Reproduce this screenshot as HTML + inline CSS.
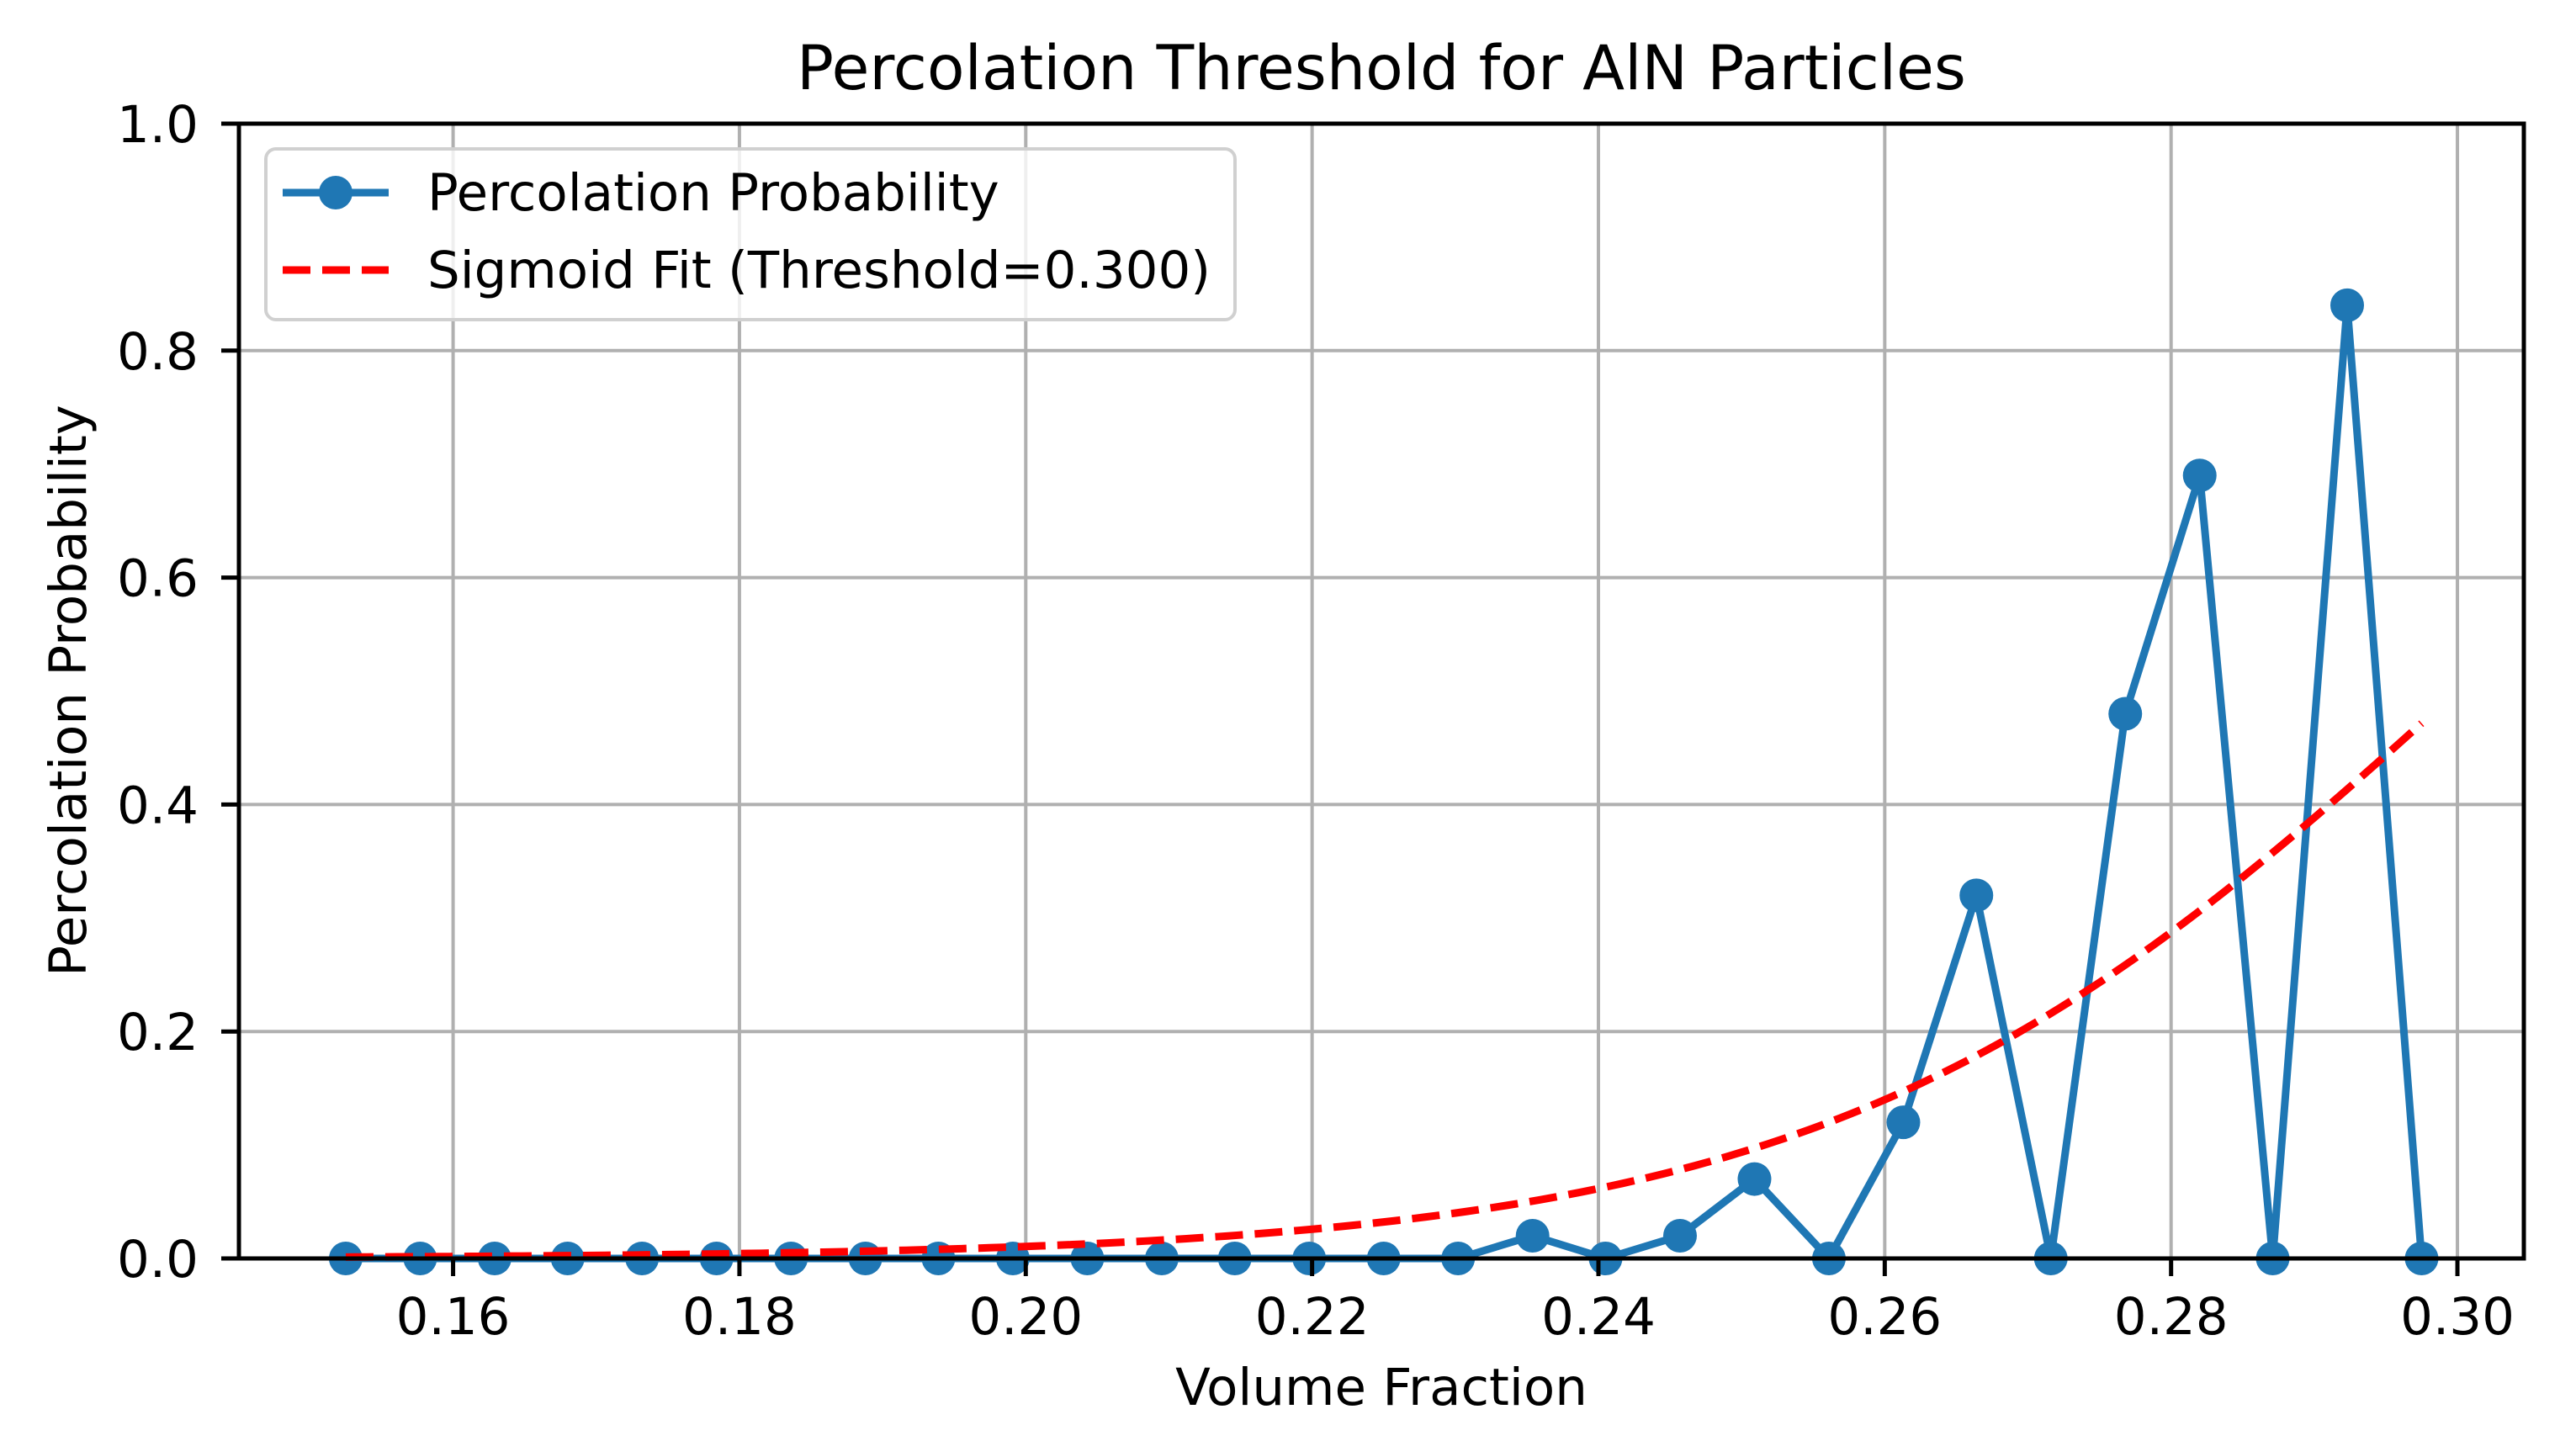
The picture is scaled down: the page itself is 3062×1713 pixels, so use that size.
<!DOCTYPE html>
<html><head><meta charset="utf-8"><style>
html,body{margin:0;padding:0;background:#fff}
svg{display:block}
text{font-family:"DejaVu Sans","Liberation Sans",sans-serif;fill:#000}
</style></head><body>
<svg id="chart" width="3062" height="1713" viewBox="0 0 3062 1713" xmlns="http://www.w3.org/2000/svg">
<rect width="3062" height="1713" fill="#fff"/>
<text x="1642" y="106" font-size="73" text-anchor="middle">Percolation Threshold for AlN Particles</text>
<g id="grid"></g>
<g id="series"></g>
<g id="axes"></g>
<text x="1642" y="1670" font-size="61" text-anchor="middle">Volume Fraction</text>
<text transform="translate(102,821) rotate(-90)" font-size="61" text-anchor="middle">Percolation Probability</text>
<g>
<rect x="316" y="177" width="1152" height="203" rx="12" fill="#fff" fill-opacity="0.8" stroke="#d0d0d0" stroke-width="4"/>
<line x1="336" y1="229" x2="462" y2="229" stroke="#1f77b4" stroke-width="9"/>
<circle cx="399" cy="229" r="20" fill="#1f77b4"/>
<text x="508" y="250" font-size="61">Percolation Probability</text>
<line x1="336" y1="321" x2="462" y2="321" stroke="#ff0000" stroke-width="9" stroke-dasharray="33,14"/>
<text x="508" y="342" font-size="61">Sigmoid Fit (Threshold=0.300)</text>
</g>
</svg>
<script>
const xTicks = [0.16,0.18,0.20,0.22,0.24,0.26,0.28,0.30];
const xTickLabels = ["0.16","0.18","0.20","0.22","0.24","0.26","0.28","0.30"];
const yTicks = [0,0.2,0.4,0.6,0.8,1.0];
const yTickLabels = ["0.0","0.2","0.4","0.6","0.8","1.0"];
const volumeFractions = [0.1525,0.1577,0.1629,0.1680,0.1732,0.1784,0.1836,0.1888,0.1939,0.1991,0.2043,0.2095,0.2146,0.2198,0.2250,0.2302,0.2354,0.2405,0.2457,0.2509,0.2561,0.2613,0.2664,0.2716,0.2768,0.2820,0.2871,0.2923,0.2975];
const probabilities = [0,0,0,0,0,0,0,0,0,0,0,0,0,0,0,0,0.02,0,0.02,0.07,0,0.12,0.32,0,0.48,0.69,0,0.84,0];
const fitThreshold = 0.300;
const fitSteepness = 45.4;
const fitRange = [0.1525,0.2975];

const L=284,R=3000,T=147,B=1496, XMIN=0.14504, XMAX=0.30464;
const NS="http://www.w3.org/2000/svg";
const sx=v=>L+(v-XMIN)/(XMAX-XMIN)*(R-L);
const sy=v=>B-v*(B-T);
function mk(tag,attrs,parent){const e=document.createElementNS(NS,tag);for(const k in attrs)e.setAttribute(k,attrs[k]);parent.appendChild(e);return e;}
const grid=document.getElementById('grid'),ser=document.getElementById('series'),axes=document.getElementById('axes');
xTicks.forEach((t,i)=>{
  const g=mk('line',{x1:sx(t),x2:sx(t),y1:T,y2:B,stroke:'#b0b0b0','stroke-width':4},grid);
  
  
  const tk=mk('line',{x1:sx(t),x2:sx(t),y1:B,y2:B+21,stroke:'#000','stroke-width':5},axes);
  
  
  const tx=mk('text',{x:sx(t),y:1586,'font-size':61,'text-anchor':'middle'},axes);
  tx.textContent=xTickLabels[i];
  
  
});
yTicks.forEach((t,i)=>{
  const g=mk('line',{x1:L,x2:R,y1:sy(t),y2:sy(t),stroke:'#b0b0b0','stroke-width':4},grid);
  
  
  const tk=mk('line',{x1:L-21,x2:L,y1:sy(t),y2:sy(t),stroke:'#000','stroke-width':5},axes);
  
  
  const tx=mk('text',{x:236,y:sy(t)+22,'font-size':61,'text-anchor':'end'},axes);
  tx.textContent=yTickLabels[i];
  
  
});
const frame=mk('rect',{x:L,y:T,width:R-L,height:B-T,fill:'none',stroke:'#000','stroke-width':5},axes);


const pl=mk('polyline',{points:volumeFractions.map((x,i)=>sx(x)+','+sy(probabilities[i])).join(' '),fill:'none',stroke:'#1f77b4','stroke-width':9,'stroke-linejoin':'round'},ser);


const fp=[];
for(let i=0;i<=200;i++){const x=fitRange[0]+(fitRange[1]-fitRange[0])*i/200;const y=1/(1+Math.exp(-fitSteepness*(x-fitThreshold)));fp.push(sx(x)+','+sy(y));}
const fl=mk('polyline',{points:fp.join(' '),fill:'none',stroke:'#ff0000','stroke-width':9,'stroke-dasharray':'33,14'},ser);


volumeFractions.forEach((x,i)=>{
  const c=mk('circle',{cx:sx(x),cy:sy(probabilities[i]),r:20,fill:'#1f77b4'},ser);
  
  
});
ser.appendChild(fl);
</script>
</body></html>
